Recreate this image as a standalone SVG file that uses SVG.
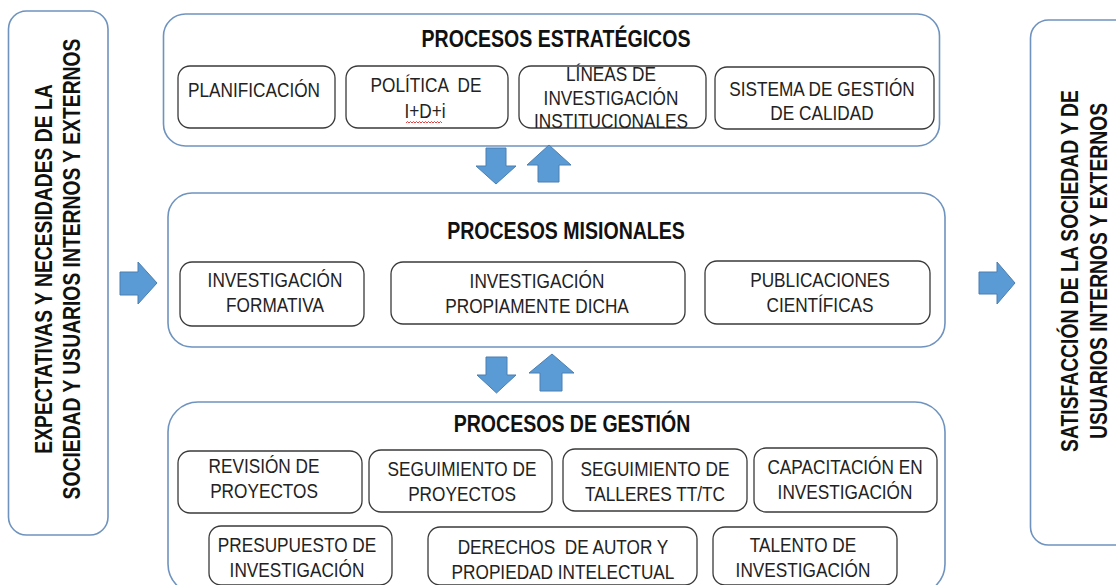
<svg xmlns="http://www.w3.org/2000/svg" width="1116" height="585" viewBox="0 0 1116 585">
<style>
.outer{fill:#fff;stroke:#6f93bf;stroke-width:1.6}
.inner{fill:#fff;stroke:#3a3a3a;stroke-width:1.3}
.arr{fill:#5b9bd5;stroke:#4a7fb0;stroke-width:1}
.side{font-family:"Liberation Sans",Arial,sans-serif;font-weight:bold;font-size:23px;fill:#111;text-anchor:middle}
.title{font-family:"Liberation Sans",Arial,sans-serif;font-weight:bold;font-size:23px;fill:#111;text-anchor:middle}
.t{font-family:"Liberation Sans",Arial,sans-serif;font-size:21px;fill:#222;text-anchor:middle;white-space:pre}
</style>
<rect width="1116" height="585" fill="#fff"/>

<g id="entrada">
<rect class="outer" x="8.5" y="11" width="99.5" height="524" rx="18"/>
<text class="side" transform="translate(52 269) rotate(-90) scale(0.84 1)">EXPECTATIVAS Y NECESIDADES DE LA</text>
<text class="side" transform="translate(80 269) rotate(-90) scale(0.84 1)">SOCIEDAD Y USUARIOS INTERNOS Y EXTERNOS</text>
</g>

<g id="salida">
<rect class="outer" x="1030.5" y="20" width="120" height="525" rx="18"/>
<text class="side" transform="translate(1078 271) rotate(-90) scale(0.84 1)">SATISFACCIÓN DE LA SOCIEDAD Y DE</text>
<text class="side" transform="translate(1107 271) rotate(-90) scale(0.84 1)">USUARIOS INTERNOS Y EXTERNOS</text>
</g>

<g id="estrategicos">
<rect class="outer" x="163.5" y="14" width="776" height="132" rx="22"/>
<text class="title" transform="translate(556 47) scale(0.85 1)">PROCESOS ESTRATÉGICOS</text>
</g>
<g id="planificacion">
<rect class="inner" x="178" y="66" width="157" height="62" rx="12"/>
<text class="t" transform="translate(254 97) scale(0.82 1)">PLANIFICACIÓN</text>
</g>
<g id="politica">
<rect class="inner" x="346" y="66" width="162" height="62" rx="12"/>
<text class="t" transform="translate(426 92) scale(0.82 1)">POLÍTICA  DE</text>
<text class="t" transform="translate(425 118) scale(0.82 1)">I+D+i</text>
<path d="M406 123 l1.5 -1.5 l1.5 1.5 l1.5 -1.5 l1.5 1.5 l1.5 -1.5 l1.5 1.5 l1.5 -1.5 l1.5 1.5 l1.5 -1.5 l1.5 1.5 l1.5 -1.5 l1.5 1.5 l1.5 -1.5 l1.5 1.5 l1.5 -1.5 l1.5 1.5 l1.5 -1.5 l1.5 1.5 l1.5 -1.5 l1.5 1.5 l1.5 -1.5 l1.5 1.5 l1.5 -1.5 l1.5 1.5" fill="none" stroke="#e03030" stroke-width="0.9"/>
</g>
<g id="lineas">
<rect class="inner" x="519" y="66" width="187" height="62" rx="12"/>
<text class="t" transform="translate(611 81) scale(0.82 1)">LÍNEAS DE</text>
<text class="t" transform="translate(611 105) scale(0.82 1)">INVESTIGACIÓN</text>
<text class="t" transform="translate(611 128) scale(0.82 1)">INSTITUCIONALES</text>
</g>
<g id="sistema">
<rect class="inner" x="715" y="67" width="219" height="62" rx="12"/>
<text class="t" transform="translate(822 96) scale(0.82 1)">SISTEMA DE GESTIÓN</text>
<text class="t" transform="translate(822 120) scale(0.82 1)">DE CALIDAD</text>
</g>

<g id="misionales">
<rect class="outer" x="168" y="193" width="777" height="154" rx="24"/>
<text class="title" transform="translate(566 239) scale(0.85 1)">PROCESOS MISIONALES</text>
</g>
<g id="formativa">
<rect class="inner" x="180" y="262" width="184" height="64" rx="12"/>
<text class="t" transform="translate(275 287) scale(0.82 1)">INVESTIGACIÓN</text>
<text class="t" transform="translate(275 312) scale(0.82 1)">FORMATIVA</text>
</g>
<g id="propiamente">
<rect class="inner" x="391" y="262" width="294" height="62" rx="12"/>
<text class="t" transform="translate(537 288) scale(0.82 1)">INVESTIGACIÓN</text>
<text class="t" transform="translate(537 313) scale(0.82 1)">PROPIAMENTE DICHA</text>
</g>
<g id="publicaciones">
<rect class="inner" x="705" y="261" width="225" height="63" rx="12"/>
<text class="t" transform="translate(820 287) scale(0.82 1)">PUBLICACIONES</text>
<text class="t" transform="translate(820 312) scale(0.82 1)">CIENTÍFICAS</text>
</g>

<g id="gestion">
<rect class="outer" x="168" y="402" width="777" height="192" rx="30"/>
<text class="title" transform="translate(572 432) scale(0.85 1)">PROCESOS DE GESTIÓN</text>
</g>
<g id="revision">
<rect class="inner" x="178" y="451" width="184" height="62" rx="12"/>
<text class="t" transform="translate(264 473) scale(0.82 1)">REVISIÓN DE</text>
<text class="t" transform="translate(264 498) scale(0.82 1)">PROYECTOS</text>
</g>
<g id="seguimiento-proyectos">
<rect class="inner" x="369" y="450" width="183" height="62" rx="12"/>
<text class="t" transform="translate(462 476) scale(0.82 1)">SEGUIMIENTO DE</text>
<text class="t" transform="translate(462 501) scale(0.82 1)">PROYECTOS</text>
</g>
<g id="seguimiento-talleres">
<rect class="inner" x="563" y="449" width="184" height="62" rx="12"/>
<text class="t" transform="translate(655 476) scale(0.82 1)">SEGUIMIENTO DE</text>
<text class="t" transform="translate(655 501) scale(0.82 1)">TALLERES TT/TC</text>
</g>
<g id="capacitacion">
<rect class="inner" x="754" y="448" width="183" height="64" rx="12"/>
<text class="t" transform="translate(845 474) scale(0.82 1)">CAPACITACIÓN EN</text>
<text class="t" transform="translate(845 499) scale(0.82 1)">INVESTIGACIÓN</text>
</g>
<g id="presupuesto">
<rect class="inner" x="209" y="526" width="183" height="59" rx="12"/>
<text class="t" transform="translate(297 552) scale(0.82 1)">PRESUPUESTO DE</text>
<text class="t" transform="translate(297 577) scale(0.82 1)">INVESTIGACIÓN</text>
</g>
<g id="derechos">
<rect class="inner" x="428" y="527" width="269" height="58" rx="12"/>
<text class="t" transform="translate(563 554) scale(0.82 1)">DERECHOS  DE AUTOR Y</text>
<text class="t" transform="translate(563 579) scale(0.82 1)">PROPIEDAD INTELECTUAL</text>
</g>
<g id="talento">
<rect class="inner" x="713" y="527" width="184" height="58" rx="12"/>
<text class="t" transform="translate(803 552) scale(0.82 1)">TALENTO DE</text>
<text class="t" transform="translate(803 577) scale(0.82 1)">INVESTIGACIÓN</text>
</g>

<g id="connectors">
<polygon class="arr" points="120,272 138,272 138,262 157,283 138,304 138,295 120,295"/>
<polygon class="arr" points="979,272 997,272 997,262 1015,283 997,304 997,294 979,294"/>
<polygon class="arr" points="486,148 506,148 506,166 516,166 496,184 476,166 486,166"/>
<polygon class="arr" points="549,145 571,165 559,165 559,182 538,182 538,165 527,165"/>
<polygon class="arr" points="486,357 507,357 507,375 516,375 496.5,393 477,375 486,375"/>
<polygon class="arr" points="552,354 574,373 562,373 562,391 540,391 540,373 529,373"/>
</g>
</svg>
